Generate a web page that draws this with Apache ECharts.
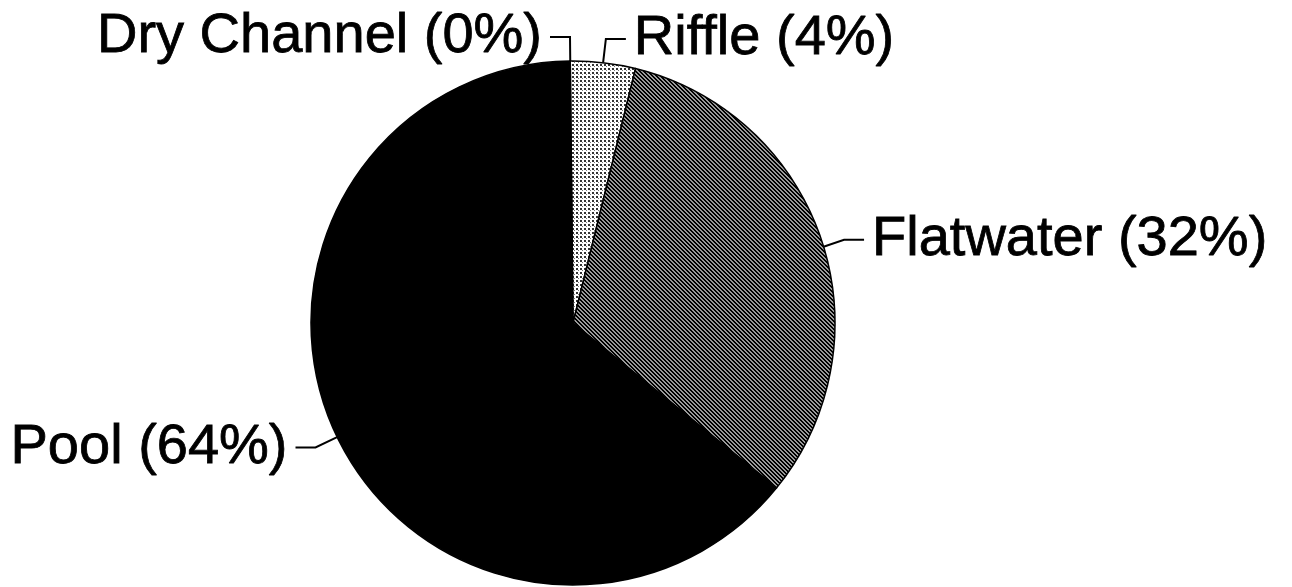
<!DOCTYPE html>
<html>
<head>
<meta charset="utf-8">
<script src="https://cdn.jsdelivr.net/npm/echarts@6/dist/echarts.min.js"></script>
<style>
html,body{margin:0;padding:0;background:#fff;}
#chart{width:1292px;height:587px;}
</style>
</head>
<body>
<div id="chart"></div>
<script>
// Data
const categories = ['Dry Channel', 'Riffle', 'Flatwater', 'Pool'];
const percents = [0, 4, 32, 64];

// Fill patterns (style only)
function makeTile(w, h, draw) {
  const c = document.createElement('canvas');
  c.width = w; c.height = h;
  const ctx = c.getContext('2d');
  draw(ctx);
  return { image: c, repeat: 'repeat' };
}
const dotPattern = makeTile(4, 4, function (ctx) {
  ctx.fillStyle = '#fff'; ctx.fillRect(0, 0, 4, 4);
  ctx.fillStyle = '#333';
  ctx.fillRect(0, 0, 2, 2);
  ctx.fillStyle = '#777';
  ctx.fillRect(2, 2, 1, 1);
});
const hatchPattern = makeTile(4, 4, function (ctx) {
  ctx.fillStyle = '#9a9a9a'; ctx.fillRect(0, 0, 4, 4);
  ctx.fillStyle = '#000';
  for (let i = 0; i < 4; i++) {
    ctx.fillRect(i, i, 1, 1);
    ctx.fillRect((i + 1) % 4, i, 1, 1);
  }
});
const fills = [dotPattern, dotPattern, hatchPattern, '#000'];
// small per-label vertical nudges (style)
const labelNudgeY = [0, 0, 8, 0];

const chart = echarts.init(document.getElementById('chart'), null, { renderer: 'canvas' });
chart.setOption({
  animation: false,
  backgroundColor: '#fff',
  series: [{
    type: 'pie',
    center: [573, 323],
    radius: [0, 262],
    startAngle: 90.6,
    clockwise: true,
    avoidLabelOverlap: false,
    silent: true,
    data: categories.map(function (name, i) {
      return { name: name, value: percents[i], itemStyle: { color: fills[i] } };
    }),
    itemStyle: { borderColor: '#000', borderWidth: 1.5 },
    label: {
      show: true,
      position: 'outside',
      formatter: function (p) { return p.name + ' (' + p.value + '%)'; },
      fontFamily: '"Liberation Sans", Arial, sans-serif',
      fontSize: 56,
      color: '#000',
      textBorderColor: '#000',
      textBorderWidth: 0.8,
      distanceToLabelLine: 8,
      bleedMargin: 0
    },
    labelLine: {
      show: true,
      length: 24,
      length2: 20,
      smooth: false,
      lineStyle: { color: '#000', width: 2 }
    },
    labelLayout: function (params) {
      const d = labelNudgeY[params.dataIndex] || 0;
      if (!d || !params.labelLinePoints) return {};
      const pts = params.labelLinePoints.map(function (p) { return [p[0], p[1] + d]; });
      return { dy: d, labelLinePoints: pts };
    },
    emphasis: { disabled: true }
  }]
});
</script>
</body>
</html>
